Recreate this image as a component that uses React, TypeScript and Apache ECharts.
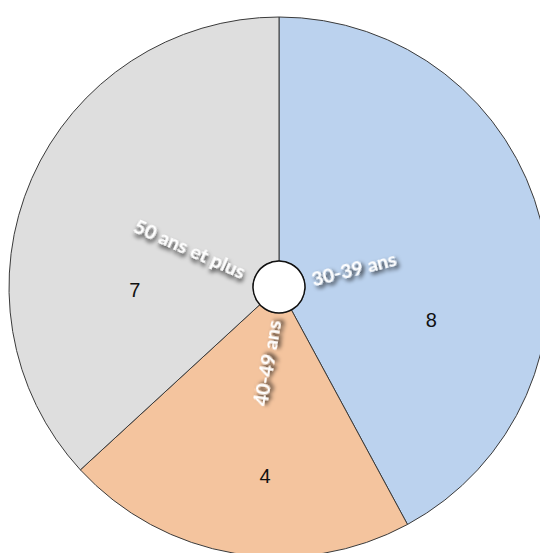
import React, { useEffect, useRef } from "react";
import * as echarts from "echarts";

const categories = ["30-39 ans", "40-49 ans", "50 ans et plus"];
const values = [8, 4, 7];
const colors = ["#bbd2ee", "#f4c49e", "#dedede"];

// label placement tweaks (pixels), layout only
const valueLabelShift = [
  [6, 70],
  [11, 40],
  [-6, 64],
];
const nameLabelPadding = [
  [0, 0, 0, 0],
  [0, 0, 0, 0],
  [0, 40, 0, 0],
];

export default function App() {
  const ref = useRef<HTMLDivElement>(null);
  useEffect(() => {
    if (!ref.current) return;
    const chart = echarts.init(ref.current, null, { renderer: "svg" });
    const center = [279, 287];
    chart.setOption({
      animation: false,
      backgroundColor: "#ffffff",
      series: [
        {
          type: "pie",
          center,
          radius: [26, 270],
          startAngle: 90,
          clockwise: true,
          silent: true,
          emphasis: { disabled: true },
          itemStyle: { borderColor: "#3a3a3a", borderWidth: 1 },
          label: {
            show: true,
            position: "inside",
            formatter: "{c}",
            color: "#111",
            fontSize: 20,
            fontFamily: "Liberation Sans",
          },
          labelLine: { show: false },
          labelLayout: (p: any) => ({
            dx: valueLabelShift[p.dataIndex][0],
            dy: valueLabelShift[p.dataIndex][1],
          }),
          data: categories.map((c, i) => ({
            name: c,
            value: values[i],
            itemStyle: { color: colors[i] },
          })),
        },
        {
          type: "pie",
          center,
          radius: [26, 122],
          startAngle: 90,
          clockwise: true,
          silent: true,
          emphasis: { disabled: true },
          itemStyle: { color: "rgba(0,0,0,0)", borderWidth: 0 },
          label: {
            show: true,
            position: "inside",
            rotate: "radial",
            formatter: "{b}",
            color: "#ffffff",
            fontSize: 19.5,
            fontWeight: "bold",
            fontFamily: "Lato",
            textShadowColor: "rgba(0,0,0,0.85)",
            textShadowBlur: 4,
            textShadowOffsetX: 2,
            textShadowOffsetY: 3,
          },
          labelLine: { show: false },
          data: categories.map((c, i) => ({
            name: c,
            value: values[i],
            label: { padding: nameLabelPadding[i] },
          })),
        },
        {
          type: "pie",
          center,
          radius: [0, 26],
          silent: true,
          z: 10,
          emphasis: { disabled: true },
          itemStyle: { color: "#ffffff", borderColor: "#111", borderWidth: 1.5 },
          label: { show: false },
          labelLine: { show: false },
          data: [{ name: "", value: 1 }],
        },
      ],
    });
    return () => chart.dispose();
  }, []);
  return (
    <div
      ref={ref}
      style={{ position: "fixed", left: 0, top: 0, width: 540, height: 553 }}
    />
  );
}
